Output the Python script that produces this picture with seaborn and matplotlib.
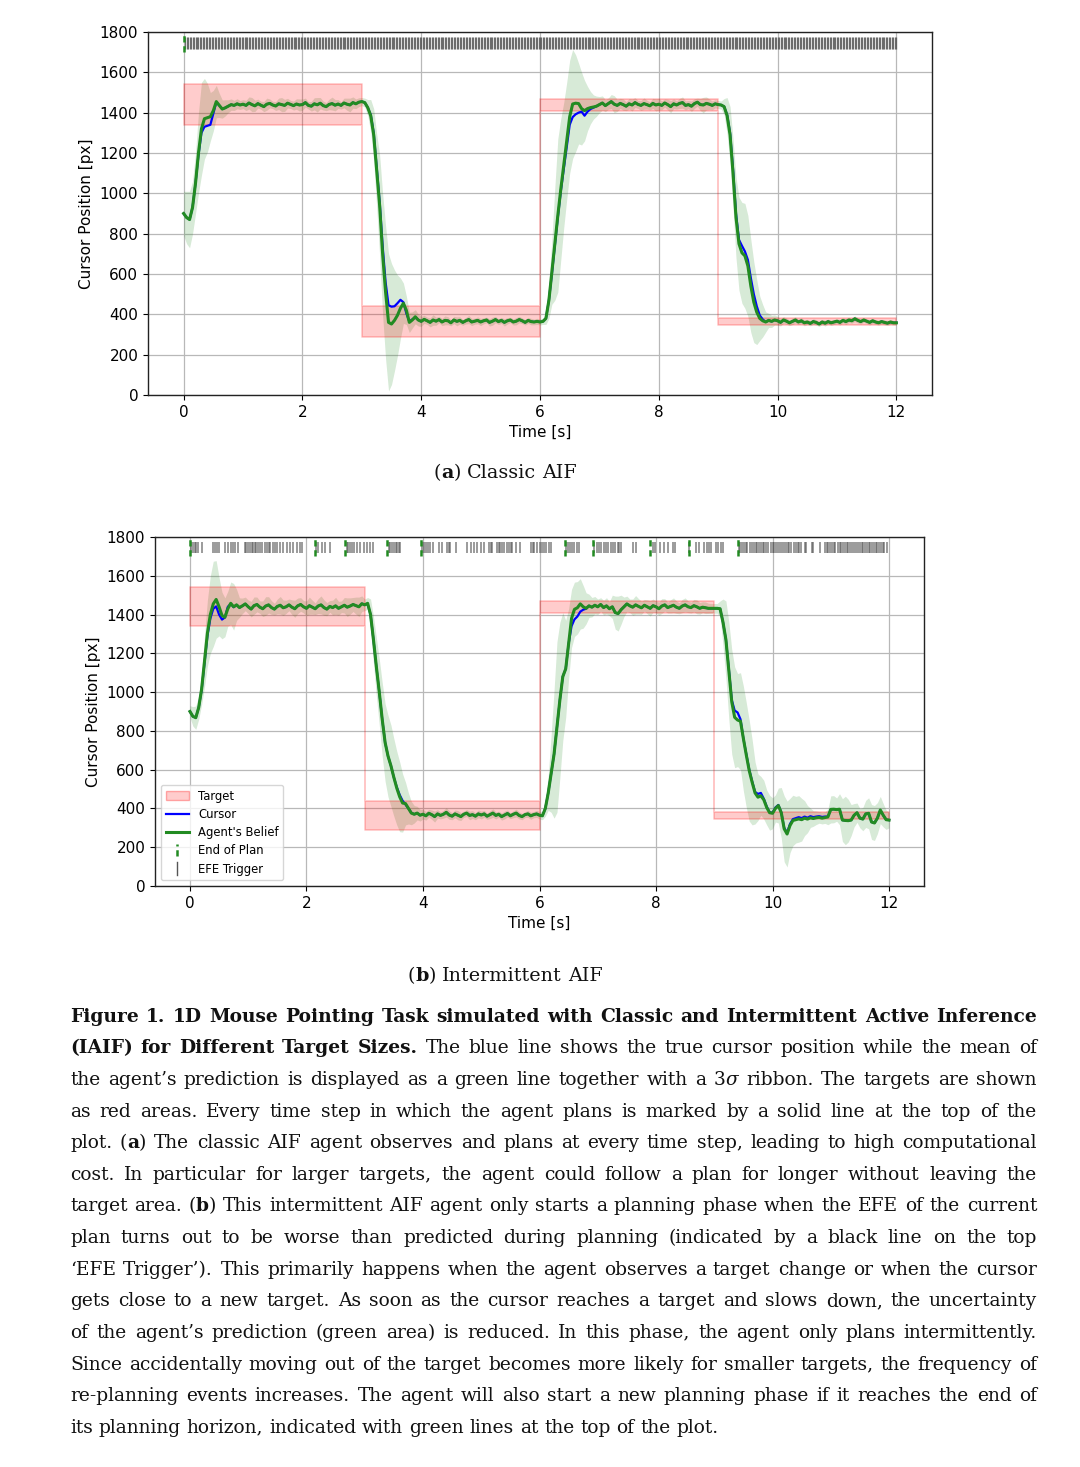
import matplotlib
matplotlib.use("Agg")
import matplotlib.pyplot as plt
import numpy as np
import seaborn as sns
from matplotlib.lines import Line2D
from matplotlib.patches import Patch
from matplotlib.legend_handler import HandlerBase

# ---------------- data ----------------
# sample times of the trajectories (s)
time_s = np.round(np.arange(241) * 0.05, 2)
# planning time steps (s); classic AIF plans at every one of them
plan_steps = np.round(np.arange(1, 481) * 0.025, 3)

target_t = [0, 3, 6, 9, 12]
target_lo = [1340, 290, 1408, 347]
target_hi = [1540, 440, 1468, 382]

cursor_a = [
    900, 880, 870, 930, 1050, 1190, 1300, 1330, 1335, 1340, 1395, 1452, 1436, 1418, 1424, 1432, 1440, 1436, 1444, 1438,
    1442, 1436, 1448, 1440, 1434, 1445, 1437, 1430, 1442, 1446, 1438, 1433, 1444, 1440, 1436, 1447, 1441, 1435, 1443, 1438,
    1440, 1450, 1436, 1432, 1444, 1439, 1447, 1435, 1430, 1441, 1445, 1437, 1443, 1436, 1448, 1442, 1438, 1450, 1444, 1452,
    1455, 1450, 1425, 1390, 1300, 1130, 960, 740, 560, 445, 438, 440, 455, 472, 460, 405, 365, 375, 385, 372,
    365, 375, 368, 360, 372, 366, 374, 362, 370, 368, 358, 372, 365, 370, 360, 368, 374, 362, 366, 370,
    362, 368, 372, 360, 366, 374, 364, 370, 360, 368, 372, 362, 366, 374, 368, 360, 370, 364, 362, 365,
    362, 365, 380, 470, 600, 740, 880, 1010, 1120, 1230, 1340, 1378, 1392, 1400, 1405, 1385, 1405, 1418, 1425, 1432,
    1440, 1448, 1435, 1445, 1455, 1442, 1436, 1446, 1440, 1432, 1444, 1438, 1450, 1441, 1436, 1445, 1440, 1434, 1446, 1438,
    1442, 1436, 1448, 1440, 1430, 1444, 1438, 1446, 1450, 1436, 1440, 1432, 1445, 1452, 1440, 1438, 1446, 1442, 1436, 1444,
    1440, 1438, 1430, 1390, 1300, 1120, 900, 770, 740, 712, 670, 580, 500, 440, 395, 375, 362, 370, 365, 372,
    368, 360, 372, 366, 358, 365, 372, 362, 368, 358, 362, 355, 364, 360, 352, 362, 356, 364, 358, 362,
    366, 360, 370, 364, 372, 368, 378, 370, 364, 372, 366, 360, 368, 362, 358, 364, 360, 356, 362, 358,
    358]

belief_a = [
    900, 880, 870, 930, 1050, 1200, 1320, 1370, 1375, 1380, 1410, 1455, 1436, 1418, 1424, 1432, 1440, 1436, 1444, 1438,
    1442, 1436, 1448, 1440, 1434, 1445, 1437, 1430, 1442, 1446, 1438, 1433, 1444, 1440, 1436, 1447, 1441, 1435, 1443, 1438,
    1440, 1450, 1436, 1432, 1444, 1439, 1447, 1435, 1430, 1441, 1445, 1437, 1443, 1436, 1448, 1442, 1438, 1450, 1444, 1452,
    1455, 1450, 1425, 1385, 1290, 1115, 940, 700, 510, 360, 352, 370, 395, 430, 455, 420, 360, 372, 388, 372,
    365, 375, 368, 360, 372, 366, 374, 362, 370, 368, 358, 372, 365, 370, 360, 368, 374, 362, 366, 370,
    362, 368, 372, 360, 366, 374, 364, 370, 360, 368, 372, 362, 366, 374, 368, 360, 370, 364, 362, 365,
    362, 365, 380, 470, 610, 750, 890, 1020, 1140, 1260, 1380, 1443, 1447, 1445, 1420, 1410, 1420, 1425, 1428, 1432,
    1440, 1448, 1435, 1445, 1455, 1442, 1436, 1446, 1440, 1432, 1444, 1438, 1450, 1441, 1436, 1445, 1440, 1434, 1446, 1438,
    1442, 1436, 1448, 1440, 1430, 1444, 1438, 1446, 1450, 1436, 1440, 1432, 1445, 1452, 1440, 1438, 1446, 1442, 1436, 1444,
    1440, 1438, 1430, 1385, 1290, 1100, 880, 750, 705, 690, 640, 540, 460, 410, 380, 368, 362, 370, 365, 372,
    368, 360, 372, 366, 358, 365, 372, 362, 368, 358, 362, 355, 364, 360, 352, 362, 356, 364, 358, 362,
    366, 360, 370, 364, 372, 368, 378, 370, 364, 372, 366, 360, 368, 362, 358, 364, 360, 356, 362, 358,
    358]

band_a = [
    110, 130, 140, 130, 150, 200, 230, 200, 170, 120, 100, 80, 60, 45, 40, 32, 28, 25, 25, 22,
    22, 25, 30, 35, 28, 22, 20, 25, 30, 22, 18, 22, 28, 35, 30, 24, 20, 22, 26, 30,
    28, 22, 18, 24, 30, 36, 28, 22, 20, 26, 32, 28, 22, 18, 24, 30, 34, 28, 24, 22,
    20, 22, 40, 80, 130, 180, 250, 300, 330, 340, 300, 250, 200, 150, 100, 70, 50, 40, 35, 30,
    25, 20, 18, 22, 26, 20, 16, 18, 22, 20, 15, 18, 22, 18, 14, 16, 20, 18, 15, 17,
    18, 15, 14, 18, 20, 16, 14, 15, 18, 16, 13, 15, 18, 16, 14, 13, 15, 16, 14, 15,
    15, 15, 30, 90, 160, 280, 380, 350, 310, 290, 280, 270, 240, 200, 180, 150, 110, 80, 60, 50,
    40, 35, 30, 28, 35, 42, 30, 25, 28, 22, 26, 30, 24, 20, 25, 28, 22, 20, 25, 30,
    28, 22, 20, 26, 30, 24, 20, 25, 28, 22, 20, 26, 24, 20, 30, 38, 32, 26, 22, 20,
    20, 20, 40, 90, 140, 170, 200, 230, 250, 260, 250, 230, 200, 160, 110, 80, 50, 35, 30, 25,
    22, 18, 16, 15, 14, 16, 15, 13, 14, 15, 13, 12, 14, 13, 12, 13, 14, 12, 13, 12,
    12, 13, 12, 14, 13, 12, 14, 13, 12, 11, 12, 13, 12, 11, 12, 11, 12, 11, 12, 11,
    11]

cursor_b = [
    900, 875, 868, 920, 1010, 1150, 1290, 1380, 1430, 1442, 1400, 1374, 1385, 1440, 1455, 1438, 1450, 1436, 1445, 1455,
    1440, 1428, 1446, 1452, 1438, 1430, 1444, 1450, 1436, 1428, 1442, 1448, 1435, 1440, 1450, 1438, 1430, 1445, 1452, 1440,
    1432, 1446, 1438, 1430, 1444, 1450, 1436, 1428, 1442, 1436, 1445, 1432, 1440, 1448, 1438, 1444, 1452, 1446, 1440, 1456,
    1450, 1455, 1400, 1270, 1130, 1000, 860, 740, 670, 620, 560, 510, 470, 440, 420, 400, 378, 370, 376, 365,
    370, 362, 375, 368, 358, 372, 364, 370, 380, 366, 360, 372, 365, 358, 370, 376, 364, 368, 360, 372,
    366, 372, 360, 368, 376, 364, 370, 358, 366, 374, 362, 370, 376, 364, 358, 368, 372, 362, 368, 372,
    365, 362, 400, 480, 580, 680, 820, 960, 1080, 1120, 1250, 1340, 1375, 1390, 1415, 1425, 1430, 1445, 1438, 1448,
    1440, 1452, 1436, 1445, 1430, 1440, 1410, 1405, 1425, 1440, 1455, 1445, 1438, 1450, 1442, 1435, 1448, 1440, 1432, 1446,
    1440, 1430, 1444, 1450, 1436, 1442, 1448, 1438, 1432, 1444, 1450, 1440, 1436, 1446, 1440, 1432, 1438, 1435, 1432, 1432,
    1432, 1432, 1430, 1360, 1270, 1120, 960, 905, 895, 860, 760, 680, 600, 540, 485, 475, 480, 450, 410, 380,
    378, 405, 418, 380, 300, 275, 320, 345, 350, 355, 350, 358, 352, 360, 355, 358, 360, 356, 358, 358,
    395, 396, 394, 396, 340, 338, 337, 340, 365, 378, 350, 345, 372, 375, 330, 325, 350, 390, 365, 342,
    340]

belief_b = [
    900, 875, 868, 920, 1015, 1160, 1305, 1400, 1455, 1478, 1440, 1395, 1386, 1430, 1458, 1440, 1450, 1436, 1445, 1455,
    1440, 1428, 1446, 1452, 1438, 1430, 1444, 1450, 1436, 1428, 1442, 1448, 1435, 1440, 1450, 1438, 1430, 1445, 1452, 1440,
    1432, 1446, 1438, 1430, 1444, 1450, 1436, 1428, 1442, 1436, 1445, 1432, 1440, 1448, 1438, 1444, 1452, 1446, 1440, 1456,
    1450, 1458, 1400, 1270, 1130, 1000, 860, 740, 670, 620, 560, 505, 460, 428, 425, 400, 376, 370, 376, 365,
    370, 362, 375, 368, 358, 372, 364, 370, 380, 366, 360, 372, 365, 358, 370, 376, 364, 368, 360, 372,
    366, 372, 360, 368, 376, 364, 370, 358, 366, 374, 362, 370, 376, 364, 358, 368, 372, 362, 368, 372,
    365, 362, 400, 480, 580, 680, 820, 960, 1080, 1120, 1250, 1380, 1427, 1435, 1455, 1440, 1432, 1445, 1438, 1448,
    1440, 1452, 1436, 1445, 1430, 1440, 1410, 1405, 1425, 1440, 1455, 1445, 1438, 1450, 1442, 1435, 1448, 1440, 1432, 1446,
    1440, 1430, 1444, 1450, 1436, 1442, 1448, 1438, 1432, 1444, 1450, 1440, 1436, 1446, 1440, 1432, 1438, 1435, 1432, 1432,
    1432, 1432, 1430, 1360, 1270, 1110, 950, 870, 856, 850, 760, 675, 595, 535, 480, 458, 465, 445, 405, 378,
    375, 400, 415, 378, 295, 268, 312, 338, 342, 346, 342, 350, 345, 352, 348, 352, 354, 350, 353, 356,
    395, 396, 394, 396, 340, 338, 337, 340, 365, 378, 350, 345, 372, 375, 330, 325, 350, 392, 365, 342,
    340]

band_b = [
    30, 50, 60, 60, 80, 130, 170, 200, 220, 200, 150, 120, 100, 90, 110, 120, 80, 50, 40, 35,
    35, 40, 45, 38, 32, 40, 48, 42, 35, 30, 38, 45, 40, 34, 30, 38, 44, 40, 35, 32,
    38, 44, 36, 30, 38, 46, 40, 34, 30, 38, 44, 36, 30, 40, 48, 42, 36, 44, 50, 40,
    30, 30, 80, 120, 150, 170, 190, 200, 210, 210, 200, 190, 180, 150, 110, 80, 60, 45, 35, 30,
    25, 22, 20, 24, 28, 22, 18, 20, 24, 22, 18, 20, 24, 20, 16, 18, 22, 20, 18, 20,
    20, 18, 16, 20, 22, 18, 16, 18, 20, 18, 15, 18, 20, 18, 16, 15, 18, 18, 16, 18,
    20, 20, 40, 90, 200, 330, 440, 400, 330, 250, 180, 150, 140, 135, 130, 110, 80, 60, 50, 45,
    40, 35, 38, 42, 36, 60, 85, 90, 75, 50, 40, 35, 42, 48, 40, 34, 30, 36, 40, 34,
    30, 34, 38, 32, 28, 34, 38, 32, 28, 34, 36, 30, 28, 32, 36, 30, 28, 30, 26, 25,
    25, 25, 40, 120, 200, 250, 270, 260, 240, 250, 270, 270, 260, 220, 160, 120, 100, 100, 90, 90,
    80, 70, 90, 130, 170, 170, 140, 130, 120, 120, 110, 90, 70, 50, 40, 35, 30, 30, 30, 40,
    70, 70, 60, 80, 110, 125, 110, 80, 60, 50, 50, 60, 70, 80, 90, 90, 80, 70, 60, 50,
    40]

plan_end_a = [0.0]
trigger_a = plan_steps

plan_end_b = [0.0, 2.15, 2.66, 3.39, 3.97, 6.44, 6.91, 7.90, 8.56, 9.41]
trigger_b = [
    0.02, 0.05, 0.08, 0.11, 0.14, 0.20,
    0.40, 0.43, 0.47, 0.50, 0.60, 0.65, 0.71, 0.74, 0.77, 0.83,
    0.94, 0.97, 1.00, 1.03, 1.06, 1.09, 1.11, 1.14, 1.17, 1.20, 1.23, 1.29, 1.32, 1.35, 1.38,
    1.43, 1.46, 1.50, 1.54, 1.60, 1.66, 1.72, 1.77, 1.83, 1.89, 1.92,
    2.17, 2.20, 2.26, 2.32, 2.40,
    2.69, 2.72, 2.75, 2.78, 2.81, 2.86, 2.92, 2.98, 3.04, 3.09, 3.15,
    3.41, 3.44, 3.47, 3.50, 3.53, 3.56, 3.59, 3.61,
    3.99, 4.02, 4.05, 4.08, 4.12, 4.18, 4.27, 4.33, 4.41, 4.44, 4.47, 4.56, 4.76, 4.82, 4.87,
    4.93, 4.99, 5.04, 5.13, 5.16, 5.19, 5.27, 5.30, 5.33, 5.36, 5.39, 5.45, 5.48, 5.51, 5.53,
    5.59, 5.66,
    5.85, 5.88, 5.91, 5.95, 6.00, 6.04, 6.08, 6.12, 6.16, 6.20,
    6.46, 6.49, 6.53, 6.56, 6.60, 6.64, 6.68,
    6.94, 6.98, 7.02, 7.05, 7.11, 7.14, 7.17, 7.22, 7.26, 7.30, 7.34, 7.37, 7.40, 7.60, 7.65,
    7.94, 7.98, 8.06, 8.14, 8.20, 8.29, 8.32,
    8.57, 8.69, 8.74, 8.83, 8.87, 8.91, 8.95, 9.03, 9.07, 9.11, 9.15,
    9.42, 9.45, 9.48, 9.51, 9.54, 9.57, 9.62, 9.65, 9.68, 9.71, 9.74, 9.77, 9.80, 9.83, 9.86,
    9.89, 9.92, 9.97, 10.00, 10.03, 10.06, 10.09, 10.12, 10.16, 10.20, 10.23, 10.26, 10.29,
    10.32, 10.37, 10.40, 10.43, 10.46, 10.49, 10.55, 10.58, 10.67, 10.70, 10.81,
    10.90, 10.93, 10.96, 10.99, 11.02, 11.05, 11.08, 11.12, 11.15, 11.18, 11.21, 11.24, 11.27,
    11.30, 11.33, 11.36, 11.39, 11.44, 11.47, 11.50, 11.53, 11.56, 11.59, 11.62, 11.65, 11.68,
    11.71, 11.74, 11.77, 11.80, 11.83, 11.86, 11.89, 11.92, 11.96]

x_ticks = [0, 2, 4, 6, 8, 10, 12]
y_ticks = [0, 200, 400, 600, 800, 1000, 1200, 1400, 1600, 1800]
legend_labels = ["Target", "Cursor", "Agent's Belief", "End of Plan", "EFE Trigger"]

sub_a = "(*a*) Classic AIF"
sub_b = "(*b*) Intermittent AIF"
caption = [
    "*Figure 1.  1D Mouse Pointing Task simulated with Classic and Intermittent Active Inference*",
    "*(IAIF) for Different Target Sizes.* The blue line shows the true cursor position while the mean of",
    "the agent\u2019s prediction is displayed as a green line together with a 3_\u03c3_ ribbon. The targets are shown",
    "as red areas. Every time step in which the agent plans is marked by a solid line at the top of the",
    "plot. (*a*) The classic AIF agent observes and plans at every time step, leading to high computational",
    "cost. In particular for larger targets, the agent could follow a plan for longer without leaving the",
    "target area. (*b*) This intermittent AIF agent only starts a planning phase when the EFE of the current",
    "plan turns out to be worse than predicted during planning (indicated by a black line on the top",
    "\u2018EFE Trigger\u2019). This primarily happens when the agent observes a target change or when the cursor",
    "gets close to a new target. As soon as the cursor reaches a target and slows down, the uncertainty",
    "of the agent\u2019s prediction (green area) is reduced. In this phase, the agent only plans intermittently.",
    "Since accidentally moving out of the target becomes more likely for smaller targets, the frequency of",
    "re-planning events increases. The agent will also start a new planning phase if it reaches the end of",
    "its planning horizon, indicated with green lines at the top of the plot.",
]

# ---------------- style ----------------
W, H = 1080, 1467
GREEN = "forestgreen"
RED_FILL = (1.0, 0.0, 0.0, 0.2)
RED_EDGE = (1.0, 0.0, 0.0, 0.22)
EFE_COL = "#555555"
DASH = (0, (2.5, 1.5))

fig = plt.figure(figsize=(W / 100, H / 100), dpi=100)
ax_a = fig.add_axes([148 / W, 1 - 395 / H, 784 / W, 363 / H])
ax_b = fig.add_axes([155 / W, 1 - 886 / H, 769 / W, 349 / H])


def draw_panel(ax, cur, bel, band, triggers, plan_ends, efe_lw, efe_alpha):
    bel_arr = np.asarray(bel, dtype=float)
    band_arr = np.asarray(band, dtype=float)
    ax.fill_between(time_s, bel_arr - band_arr, bel_arr + band_arr,
                    color=GREEN, alpha=0.18, lw=0, zorder=1)
    ax.fill_between(target_t, target_lo + target_lo[-1:], target_hi + target_hi[-1:],
                    step="post", facecolor=RED_FILL, edgecolor=RED_EDGE, lw=1.2, zorder=2)
    sns.lineplot(x=time_s, y=cur, ax=ax, color="blue", lw=1.6, zorder=3)
    sns.lineplot(x=time_s, y=bel, ax=ax, color=GREEN, lw=2.2, zorder=4)
    ax.vlines(triggers, 1718, 1775, color=EFE_COL, lw=efe_lw, alpha=efe_alpha, zorder=5)
    ax.vlines(plan_ends, 1700, 1800, color=GREEN, lw=1.8, linestyles=[DASH], zorder=6)
    ax.set_xlim(-0.6, 12.6)
    ax.set_ylim(0, 1800)
    ax.set_xticks(x_ticks)
    ax.set_yticks(y_ticks)
    ax.grid(True, color="#b8b8b8", lw=0.9)
    ax.set_axisbelow(True)
    ax.tick_params(labelsize=11)
    ax.set_xlabel("Time [s]", fontsize=11)
    ax.set_ylabel("Cursor Position [px]", fontsize=11)
    for s in ax.spines.values():
        s.set_color("#222222")
        s.set_linewidth(1.0)


draw_panel(ax_a, cursor_a, belief_a, band_a, trigger_a, plan_end_a, 0.9, 0.85)
draw_panel(ax_b, cursor_b, belief_b, band_b, trigger_b, plan_end_b, 1.1, 0.75)


class VLineHandler(HandlerBase):
    def create_artists(self, legend, orig_handle, xdescent, ydescent,
                       width, height, fontsize, trans):
        x = width / 2 - xdescent
        line = Line2D([x, x], [-ydescent - 0.25 * height, 1.25 * height - ydescent])
        line.update_from(orig_handle)
        line.set_transform(trans)
        return [line]


h_target = Patch(facecolor=RED_FILL, edgecolor=(1, 0, 0, 0.3))
h_cursor = Line2D([], [], color="blue", lw=1.6)
h_belief = Line2D([], [], color=GREEN, lw=2.2)
h_end = Line2D([], [], color=GREEN, lw=1.8, linestyle=DASH)
h_efe = Line2D([], [], color=EFE_COL, lw=1.0)
ax_b.legend([h_target, h_cursor, h_belief, h_end, h_efe], legend_labels,
            loc="lower left", fontsize=8.4, labelspacing=0.45,
            handler_map={h_end: VLineHandler(), h_efe: VLineHandler()})

# ---------------- caption text ----------------
renderer = fig.canvas.get_renderer()
SERIF = "DejaVu Serif"


def parse(line):
    words, cur, buf = [], [], ""
    bold = ital = False
    for ch in line:
        if ch in "*_":
            if buf:
                cur.append((buf, bold, ital))
                buf = ""
            if ch == "*":
                bold = not bold
            else:
                ital = not ital
        elif ch == " ":
            if buf:
                cur.append((buf, bold, ital))
                buf = ""
            if cur:
                words.append(cur)
                cur = []
        else:
            buf += ch
    if buf:
        cur.append((buf, bold, ital))
    if cur:
        words.append(cur)
    return words


def make_texts(line, size):
    arts = []
    for w in parse(line):
        pieces = []
        for s, b, i in w:
            tx = fig.text(0, 0, s, fontsize=size, family=SERIF,
                          weight="bold" if b else "normal",
                          style="italic" if i else "normal",
                          va="baseline", ha="left", color="#111111")
            pieces.append((tx, tx.get_window_extent(renderer).width))
        arts.append(pieces)
    return arts


def space_width(size):
    t1 = fig.text(0, 0, "n n", fontsize=size, family=SERIF)
    t2 = fig.text(0, 0, "nn", fontsize=size, family=SERIF)
    w = t1.get_window_extent(renderer).width - t2.get_window_extent(renderer).width
    t1.remove()
    t2.remove()
    return w


def natural_width(line, size):
    arts = make_texts(line, size)
    total = sum(p[1] for ps in arts for p in ps) + space_width(size) * (len(arts) - 1)
    for ps in arts:
        for tx, _ in ps:
            tx.remove()
    return total


def place(line, y_px, size, mode, x0=70, x1=1037, xc=None):
    arts = make_texts(line, size)
    wsum = [sum(p[1] for p in ps) for ps in arts]
    n = len(arts)
    if mode == "justify" and n > 1:
        gap = (x1 - x0 - sum(wsum)) / (n - 1)
        start = x0
    else:
        gap = space_width(size)
        total = sum(wsum) + gap * (n - 1)
        start = x0 if mode == "left" else xc - total / 2
    x = start
    for ps, wt in zip(arts, wsum):
        xx = x
        for tx, w in ps:
            tx.set_position((xx / W, 1 - y_px / H))
            xx += w
        x += wt + gap


# fit the caption font so the widest line just fits the text block
base = 13.0
widest = max(natural_width(ln, base) for ln in caption[:-1])
cap_size = base * 962 / widest
sub_size = base * 142 / natural_width(sub_a, base)

place(sub_a, 478, sub_size, "center", xc=505)
place(sub_b, 981, sub_size, "center", xc=505)
for k, ln in enumerate(caption):
    mode = "left" if k == len(caption) - 1 else "justify"
    place(ln, 1021.7 + 31.62 * k, cap_size, mode)

fig.savefig("out.png", dpi=100)
